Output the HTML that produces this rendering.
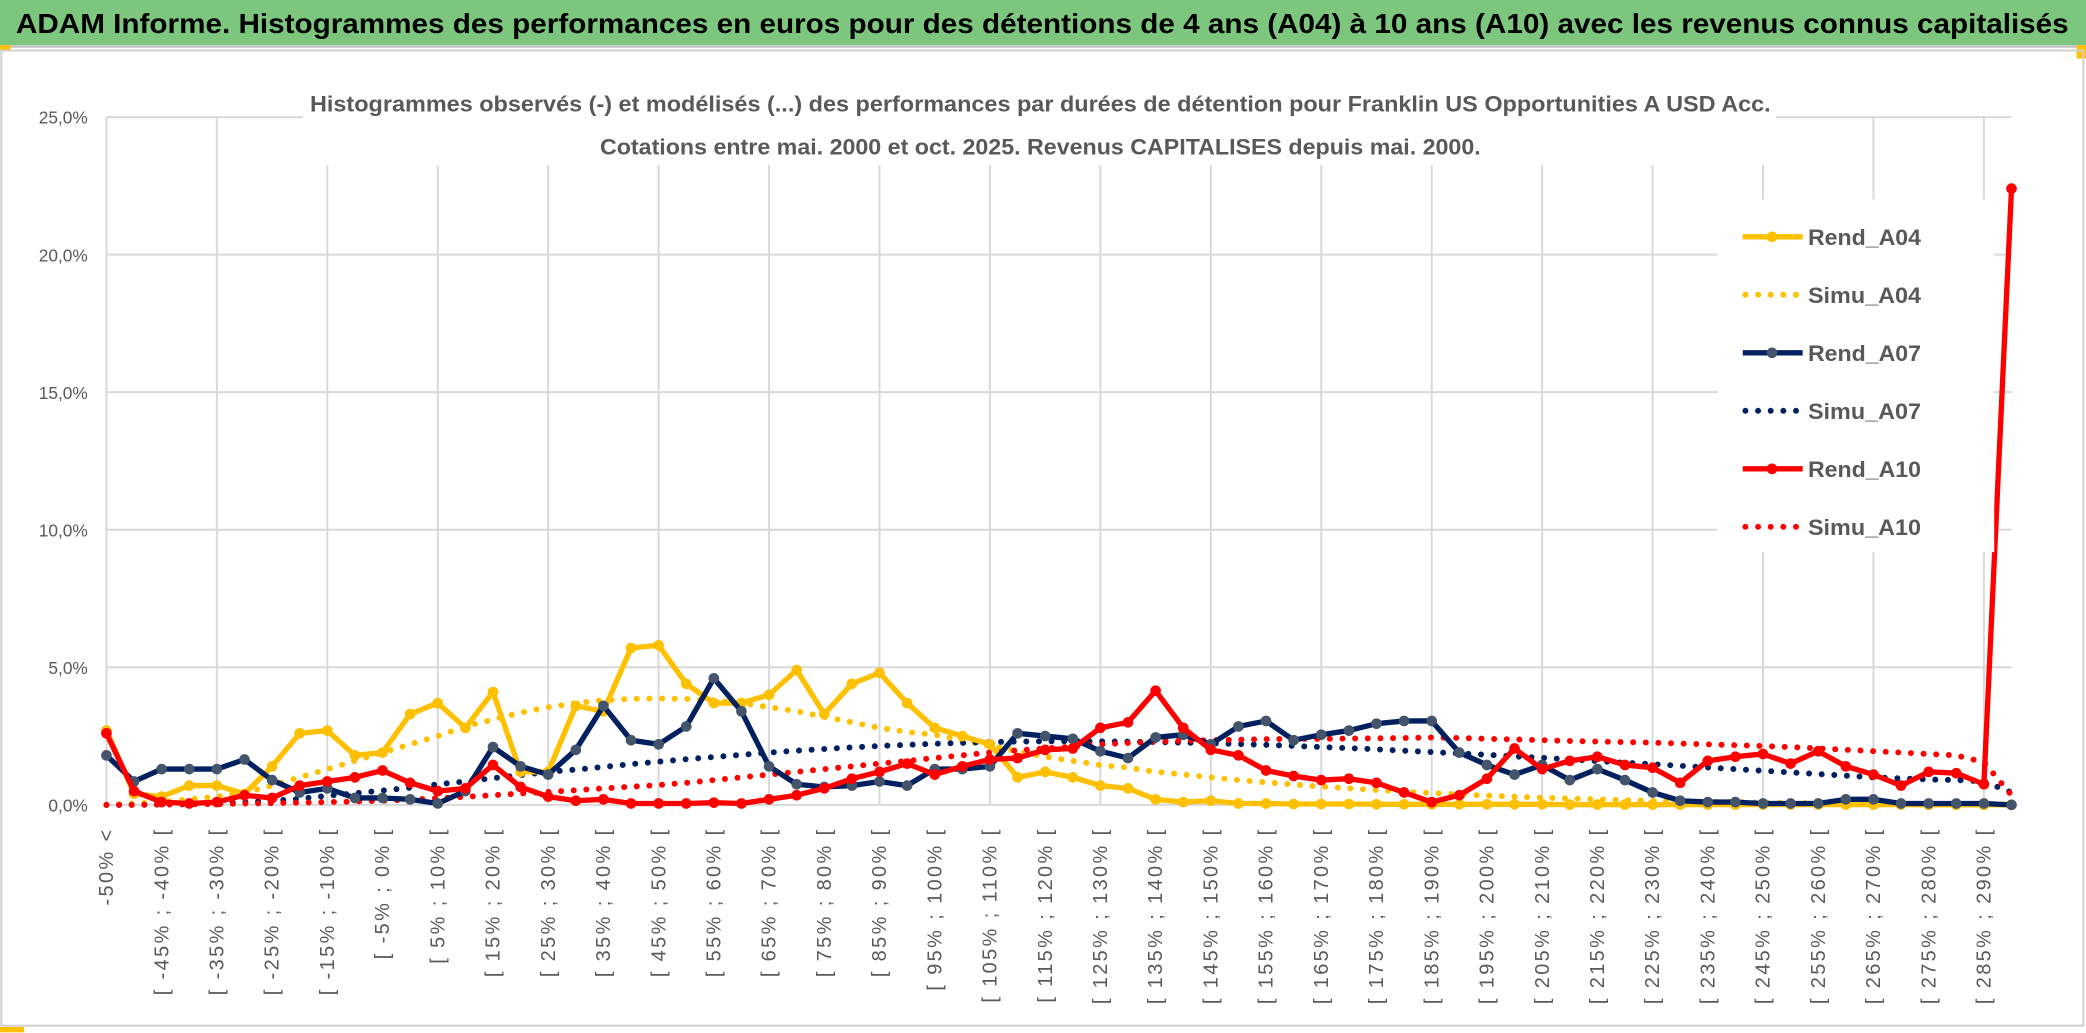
<!DOCTYPE html>
<html><head><meta charset="utf-8">
<style>
html,body{margin:0;padding:0;background:#fff;}
svg{display:block;}
text{font-family:"Liberation Sans",sans-serif;}
</style></head>
<body>
<svg id="chart" width="2086" height="1033" viewBox="0 0 1568 776.5" preserveAspectRatio="none" xmlns="http://www.w3.org/2000/svg">
  <rect x="0" y="0" width="1568" height="776.5" fill="#fff"/>
  <rect x="0" y="0" width="1568" height="34" fill="#7dc67d"/>
  <text x="12" y="25" font-size="21" font-weight="bold" fill="#000" textLength="1543" lengthAdjust="spacingAndGlyphs">ADAM Informe. Histogrammes des performances en euros pour des détentions de 4 ans (A04) à 10 ans (A10) avec les revenus connus capitalisés</text>
  <rect x="0" y="34" width="1568" height="2" fill="#c8c8c8"/>
  <rect x="0" y="34" width="8" height="4" fill="#ffc000"/>
  <rect x="1561" y="34" width="7" height="10" fill="#ffc000"/>
  <rect x="1" y="38" width="1565" height="733" fill="none" stroke="#d0d0d0" stroke-width="1.5"/>
  <rect x="0" y="772" width="18" height="4" fill="#ffc000"/>
  <g id="grid"></g>
  <g id="yaxis"></g>
  <g id="xaxis"></g>
  <g id="series"></g>
  <rect x="228" y="62" width="1107" height="62" fill="#fff"/>
  <text x="782" y="84" text-anchor="middle" font-size="17" font-weight="bold" fill="#595959" textLength="1098" lengthAdjust="spacingAndGlyphs">Histogrammes observés (-) et modélisés (...) des performances par durées de détention pour Franklin US Opportunities A USD Acc.</text>
  <text x="782" y="116" text-anchor="middle" font-size="17" font-weight="bold" fill="#595959" textLength="662" lengthAdjust="spacingAndGlyphs">Cotations entre mai. 2000 et oct. 2025. Revenus CAPITALISES depuis mai. 2000.</text>
  <rect x="1291" y="150" width="208" height="265" fill="#fff"/>
  <g id="legend"></g>
</svg>
<script>
const rendA04 = [2.7,0.4,0.3,0.7,0.7,0.4,1.4,2.6,2.7,1.8, 1.9,3.3,3.7,2.8,4.1,1.2,1.2,3.6,3.4,5.7, 5.8,4.4,3.7,3.7,4.0,4.9,3.3,4.4,4.8,3.7, 2.8,2.5,2.2,1.0,1.2,1.0,0.7,0.6,0.2,0.1, 0.15,0.05,0.05,0.03,0.03,0.03,0.02,0.02,0.02,0.02, 0.02,0.02,0.02,0.01,0.01,0.01,0.01,0.01,0.01,0.01, 0.01,0.01,0.01,0.01,0.01,0.01,0,0,0,0];
const simuA04 = [0,0.05,0.1,0.2,0.3,0.45,0.7,1.0,1.3,1.6, 1.9,2.2,2.5,2.85,3.1,3.35,3.55,3.7,3.8,3.85, 3.87,3.85,3.8,3.7,3.55,3.4,3.2,3.0,2.8,2.65, 2.55,2.35,2.15,1.95,1.75,1.6,1.45,1.35,1.2,1.1, 1.0,0.9,0.82,0.74,0.66,0.6,0.54,0.48,0.43,0.38, 0.34,0.3,0.26,0.23,0.2,0.17,0.15,0.13,0.11,0.1, 0.08,0.07,0.06,0.05,0.04,0.04,0.03,0.03,0.02,0.02];
const rendA07 = [1.8,0.85,1.3,1.3,1.3,1.65,0.9,0.45,0.6,0.25, 0.25,0.2,0.05,0.5,2.1,1.4,1.1,2.0,3.6,2.35, 2.2,2.85,4.6,3.4,1.4,0.75,0.65,0.7,0.85,0.7, 1.3,1.3,1.4,2.6,2.5,2.4,1.95,1.7,2.45,2.55, 2.2,2.85,3.05,2.35,2.55,2.7,2.95,3.05,3.05,1.9, 1.45,1.1,1.45,0.9,1.3,0.9,0.45,0.15,0.1,0.1, 0.05,0.05,0.05,0.2,0.2,0.05,0.05,0.05,0.05,0.0];
const simuA07 = [0,0,0.01,0.03,0.05,0.1,0.15,0.22,0.33,0.42, 0.52,0.62,0.75,0.85,0.97,1.08,1.2,1.28,1.38,1.48, 1.57,1.66,1.74,1.82,1.9,1.97,2.03,2.09,2.14,2.18, 2.22,2.25,2.28,2.3,2.31,2.31,2.31,2.3,2.28,2.26, 2.24,2.21,2.18,2.14,2.1,2.06,2.02,1.97,1.92,1.87, 1.82,1.76,1.71,1.65,1.59,1.53,1.48,1.42,1.36,1.3, 1.24,1.18,1.12,1.06,1.0,0.96,0.92,0.9,0.85,0.45];
const rendA10 = [2.6,0.5,0.1,0.05,0.1,0.35,0.25,0.7,0.85,1.0, 1.25,0.8,0.5,0.6,1.45,0.65,0.3,0.15,0.2,0.05, 0.05,0.05,0.08,0.05,0.2,0.35,0.6,0.95,1.2,1.5, 1.1,1.4,1.65,1.7,2.0,2.05,2.8,3.0,4.15,2.8, 2.0,1.8,1.25,1.05,0.9,0.95,0.8,0.45,0.1,0.35, 0.95,2.05,1.3,1.6,1.75,1.45,1.35,0.8,1.6,1.75, 1.85,1.5,1.95,1.4,1.1,0.7,1.2,1.15,0.75,22.4];
const simuA10 = [0,0,0.01,0.02,0.03,0.05,0.06,0.08,0.1,0.12, 0.15,0.19,0.24,0.29,0.35,0.41,0.47,0.53,0.6,0.66, 0.72,0.8,0.9,1.0,1.1,1.2,1.3,1.4,1.5,1.6, 1.7,1.8,1.9,1.98,2.05,2.12,2.2,2.25,2.3,2.33, 2.35,2.37,2.39,2.4,2.4,2.41,2.42,2.43,2.45,2.43, 2.4,2.38,2.35,2.32,2.3,2.28,2.26,2.23,2.2,2.17, 2.14,2.1,2.05,2.0,1.95,1.9,1.85,1.8,1.55,0.35];
const yTicks = [0,5,10,15,20,25];
const yTickLabels = ["0,0%","5,0%","10,0%","15,0%","20,0%","25,0%"];
const categories = ["-50% <"];
for (let a = -50; a <= 285; a += 5) categories.push("[ " + a + "% ; " + (a + 5) + "% [");
categories.push("> 290%");

const NS = "http://www.w3.org/2000/svg";
const X0 = 80, X1 = 1512, Y0 = 605, Y25 = 88;
function xs(i){ return X0 + (X1 - X0) * i / (categories.length - 1); }
function ys(v){ return Y0 - (Y0 - Y25) * v / 25; }
function mk(tag, attrs, parent){ const e = document.createElementNS(NS, tag); for (const k in attrs) e.setAttribute(k, attrs[k]); parent.appendChild(e); return e; }

const grid = document.getElementById('grid');
yTicks.forEach(function(t){
  const l = mk('line', {x1: X0, x2: X1, y1: ys(t), y2: ys(t), stroke: '#d9d9d9', 'stroke-width': 1.5}, grid);
  
  
});
for (let i = 0; i < categories.length; i += 4) {
  const l = mk('line', {x1: xs(i), x2: xs(i), y1: Y25, y2: Y0, stroke: '#d9d9d9', 'stroke-width': 1.5}, grid);
  
  
}
const yaxis = document.getElementById('yaxis');
yTicks.forEach(function(t, k){
  const tx = mk('text', {x: 66, y: ys(t) + 5, 'text-anchor': 'end', 'font-size': 13, fill: '#595959'}, yaxis);
  tx.textContent = yTickLabels[k];
  
  
});
const xaxis = document.getElementById('xaxis');
for (let i = 0; i < categories.length - 1; i += 2) {
  const x = xs(i) + 5, y = 622;
  const tx = mk('text', {x: x, y: y, 'text-anchor': 'end', 'font-size': 15, 'letter-spacing': 1.8, fill: '#595959', transform: 'rotate(-90 ' + x + ' ' + y + ')'}, xaxis);
  tx.textContent = categories[i];
  
  
}
const series = document.getElementById('series');
function pts(arr){ return arr.map(function(v, i){ return xs(i).toFixed(2) + ',' + ys(v).toFixed(2); }).join(' '); }
function dotted(arr, color, name){
  const p = mk('polyline', {points: pts(arr), fill: 'none', stroke: color, 'stroke-width': 4.5, 'stroke-linecap': 'round', 'stroke-dasharray': '0 9.5'}, series);
  
  
}
function solid(arr, color, mcolor, name){
  const g = mk('g', {}, series);
  
  
  mk('polyline', {points: pts(arr), fill: 'none', stroke: color, 'stroke-width': 4, 'stroke-linejoin': 'round'}, g);
  arr.forEach(function(v, i){
    const c = mk('circle', {cx: xs(i), cy: ys(v), r: 4, fill: mcolor}, g);
    
    
  });
}
dotted(simuA04, '#ffc000', 'simu-a04-line');
dotted(simuA07, '#002060', 'simu-a07-line');
dotted(simuA10, '#ff0000', 'simu-a10-line');
solid(rendA04, '#ffc000', '#ffc000', 'rend-a04-line');
solid(rendA07, '#002060', '#44546a', 'rend-a07-line');
solid(rendA10, '#ff0000', '#ff0000', 'rend-a10-line');

const legendNames = ["Rend_A04","Simu_A04","Rend_A07","Simu_A07","Rend_A10","Simu_A10"];
const legendColors = ['#ffc000','#ffc000','#002060','#002060','#ff0000','#ff0000'];
const legend = document.getElementById('legend');
legendNames.forEach(function(n, k){
  const y = 178 + k * 43.6;
  const g = mk('g', {}, legend);
  
  
  if (k % 2 === 0) {
    mk('line', {x1: 1310, x2: 1355, y1: y, y2: y, stroke: legendColors[k], 'stroke-width': 4}, g);
    mk('circle', {cx: 1332, cy: y, r: 4, fill: k === 2 ? '#44546a' : legendColors[k]}, g);
  } else {
    mk('line', {x1: 1312, x2: 1355, y1: y, y2: y, stroke: legendColors[k], 'stroke-width': 4.5, 'stroke-linecap': 'round', 'stroke-dasharray': '0 9.5'}, g);
  }
  const t = mk('text', {x: 1359, y: y + 6, 'font-size': 17, 'font-weight': 'bold', fill: '#595959', textLength: 85, lengthAdjust: 'spacingAndGlyphs'}, g);
  t.textContent = n;
});
</script>
</body></html>
